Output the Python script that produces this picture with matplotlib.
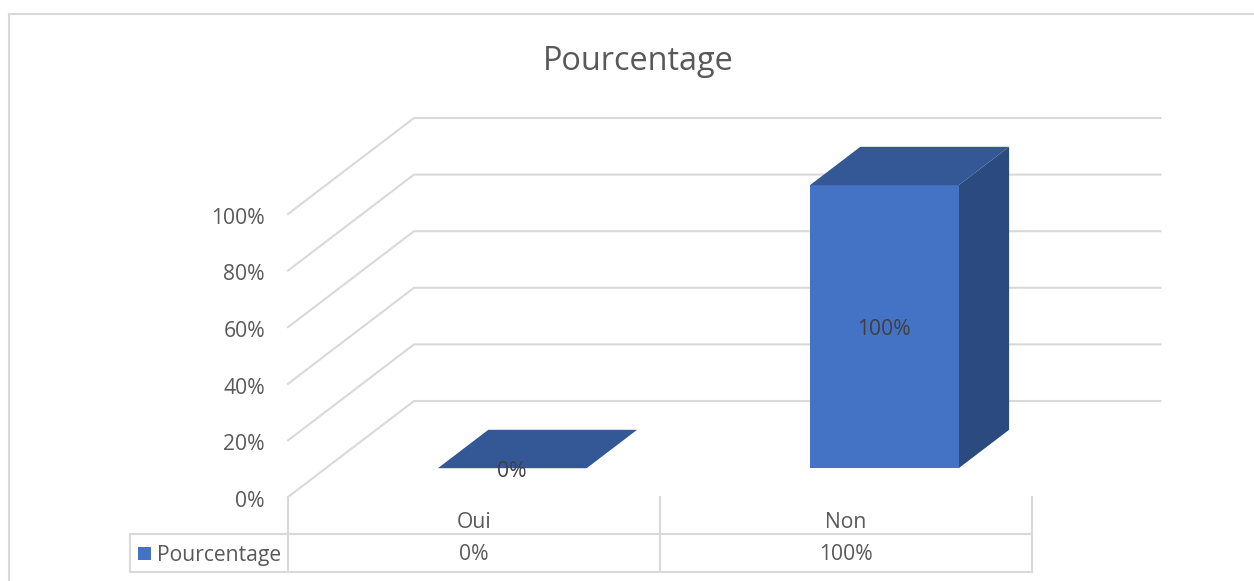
import matplotlib
matplotlib.use("Agg")
import matplotlib.pyplot as plt
from matplotlib.lines import Line2D
from matplotlib.patches import Polygon, Rectangle

categories = ["Oui", "Non"]
values = [0, 100]
value_labels = ["0%", "100%"]
y_ticks = [0, 20, 40, 60, 80, 100]
series_name = "Pourcentage"
title = "Pourcentage"

W, H = 1254, 581
GRID = "#d9d9d9"
TEXT = "#595959"
FRONT = "#4472c4"
TOP = "#335895"
SIDE = "#2a4a80"

plt.rcParams["font.family"] = ["Open Sans", "DejaVu Sans"]

fig = plt.figure(figsize=(W / 100, H / 100), dpi=100, facecolor="white")

# front plane of the 3D box: 288..1032 px wide, 0% at y=497, 100% at y=214
ax = fig.add_axes([288 / W, 1 - 497 / H, (1032 - 288) / W, (497 - 214) / H])
ax.set_xlim(0, len(categories))
ax.set_ylim(0, 100)
ax.axis("off")

# depth of the floor, in data units
DX = 126 / 372
DY = 96 / 2.83
BAR_W = 0.4
WALL_END = (1160.5 - 414) / 372


def proj(x, y, d):
    return (x + d * DX, y + d * DY)


def px_line(x0, y0, x1, y1, lw=1.5, color=GRID):
    fig.add_artist(Line2D([x0 / W, x1 / W], [1 - y0 / H, 1 - y1 / H],
                          color=color, lw=lw, transform=fig.transFigure))


# gridlines: diagonal on the side wall, then along the back wall
for t in y_ticks:
    pts = [proj(0, t, 0), proj(0, t, 1), proj(WALL_END, t, 1)]
    ax.plot([p[0] for p in pts], [p[1] for p in pts], color=GRID, lw=1.5,
            clip_on=False, zorder=1, solid_joinstyle="miter")
    ax.text(-23 / 372, t - 1.5, f"{t}%", ha="right", va="center", fontsize=15.2,
            color=TEXT, clip_on=False)

# bars
for i, v in enumerate(values):
    x0 = i + 0.5 - BAR_W / 2 + 0.5 / 372
    x1 = i + 0.5 + BAR_W / 2 + 0.5 / 372
    d0, d1 = 0.3, 0.7
    top = [proj(x0, v, d0), proj(x1, v, d0), proj(x1, v, d1), proj(x0, v, d1)]
    if v > 0:
        side = [proj(x1, 0, d0), proj(x1, v, d0), proj(x1, v, d1), proj(x1, 0, d1)]
        ax.add_patch(Polygon(side, closed=True, fc=SIDE, ec="none", zorder=3, clip_on=False))
        front = [proj(x0, 0, d0), proj(x1, 0, d0), proj(x1, v, d0), proj(x0, v, d0)]
        ax.add_patch(Polygon(front, closed=True, fc=FRONT, ec="none", zorder=3, clip_on=False))
    ax.add_patch(Polygon(top, closed=True, fc=TOP, ec="none", zorder=3, clip_on=False))
    lx, ly = proj(i + 0.5, v / 2 - 1.0, 0.3)
    ax.text(lx, ly, value_labels[i], ha="center", va="center", fontsize=15.2,
            color="#404040", zorder=5, clip_on=False)

# data table under the chart
px_line(288, 497, 288, 572)
px_line(660, 497, 660, 572)
px_line(1032, 497, 1032, 572)
px_line(130, 534, 1032, 534)
px_line(130, 572, 1032, 572)
px_line(130, 534, 130, 572)

fig.add_artist(Rectangle((138 / W, 1 - 559.5 / H), 13 / W, 13 / H, fc=FRONT, ec="none",
                         transform=fig.transFigure))
fig.text(157 / W, 1 - 555 / H, series_name, fontsize=15.2, color=TEXT, ha="left", va="center")
for i, c in enumerate(categories):
    cx = (288 + 372 * (i + 0.5)) / W
    fig.text(cx, 1 - 522 / H, c, fontsize=15.2, color=TEXT, ha="center", va="center")
    fig.text(cx, 1 - 555 / H, value_labels[i], fontsize=15.2, color=TEXT, ha="center", va="center")

fig.text(638.5 / W, 1 - 61.5 / H, title, fontsize=23.4, color=TEXT, ha="center", va="center")

# chart frame: top and left edges only, the rest runs off the picture
px_line(9, 14, 1254, 14)
px_line(9, 14, 9, 581)

fig.savefig("out.png", dpi=100)
